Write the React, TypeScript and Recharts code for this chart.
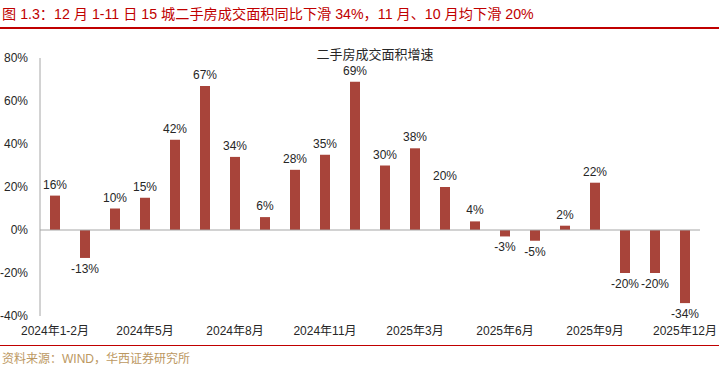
import { Bar, BarChart, LabelList, ReferenceLine, XAxis, YAxis } from "recharts";

const MONTHS = [
  "2024年1-2月", "2024年3月", "2024年4月", "2024年5月", "2024年6月", "2024年7月",
  "2024年8月", "2024年9月", "2024年10月", "2024年11月", "2024年12月",
  "2025年1-2月", "2025年3月", "2025年4月", "2025年5月", "2025年6月", "2025年7月",
  "2025年8月", "2025年9月", "2025年10月", "2025年11月", "2025年12月",
];
const GROWTH = [16, -13, 10, 15, 42, 67, 34, 6, 28, 35, 69, 30, 38, 20, 4, -3, -5, 2, 22, -20, -20, -34];
const Y_TICKS = [-40, -20, 0, 20, 40, 60, 80];

const BAR = "#A8443A";
const AXIS = "#A6A6A6";
const FONT = "Arial, 'Liberation Sans', 'Noto Sans CJK SC', sans-serif";

const data = MONTHS.map((month, i) => ({ month, growth: GROWTH[i] }));

function ValueLabel(props: any) {
  const { x, y, width, height, value } = props;
  const top = Math.min(y, y + height);
  const bottom = Math.max(y, y + height);
  const cx = x + width / 2;
  return (
    <text
      x={cx}
      y={value >= 0 ? top - 7 : bottom + 15}
      textAnchor="middle"
      fontSize={12}
      fill="#262626"
      fontFamily={FONT}
    >
      {value}%
    </text>
  );
}

export default function App() {
  return (
    <div
      style={{
        position: "absolute",
        left: 0,
        top: 0,
        width: 719,
        height: 368,
        background: "#fff",
        fontFamily: FONT,
      }}
    >
      <div
        style={{
          position: "absolute",
          left: 2,
          top: 3,
          fontSize: 14.2,
          color: "#C00000",
          whiteSpace: "nowrap",
          fontFamily: "Arial, 'Noto Sans CJK SC', sans-serif",
        }}
      >
        图 1.3：12 月 1-11 日 15 城二手房成交面积同比下滑 34%，11 月、10 月均下滑 20%
      </div>
      <div style={{ position: "absolute", left: 0, top: 27, width: 719, height: 2, background: "#C00000" }} />
      <div
        style={{
          position: "absolute",
          left: 0,
          top: 44,
          width: 750,
          textAlign: "center",
          fontSize: 13,
          color: "#262626",
          fontFamily: "'Noto Sans CJK SC', serif",
        }}
      >
        二手房成交面积增速
      </div>
      <div style={{ position: "absolute", left: 0, top: 0 }}>
        <BarChart
          width={719}
          height={346}
          data={data}
          margin={{ top: 58, right: 19, bottom: 0, left: 0 }}
          barCategoryGap={10}
        >
          <XAxis
            dataKey="month"
            axisLine={false}
            tickLine={false}
            interval={2}
            height={30}
            tick={{ fontSize: 12, fill: "#262626", fontFamily: FONT }}
            tickMargin={4}
          />
          <YAxis
            domain={[-40, 80]}
            ticks={Y_TICKS}
            tickFormatter={(v) => `${v}%`}
            width={40}
            axisLine={{ stroke: AXIS }}
            tickLine={false}
            tick={{ fontSize: 12, fill: "#262626", fontFamily: FONT }}
            tickMargin={6}
          />
          <ReferenceLine y={0} stroke={AXIS} />
          <Bar dataKey="growth" fill={BAR} isAnimationActive={false}>
            <LabelList dataKey="growth" content={ValueLabel} />
          </Bar>
        </BarChart>
      </div>
      <div style={{ position: "absolute", left: 0, top: 345, width: 719, height: 1, background: "#C00000" }} />
      <div
        style={{
          position: "absolute",
          left: 2,
          top: 349,
          fontSize: 12,
          color: "#BC9862",
          whiteSpace: "nowrap",
        }}
      >
        资料来源：WIND，华西证券研究所
      </div>
    </div>
  );
}
